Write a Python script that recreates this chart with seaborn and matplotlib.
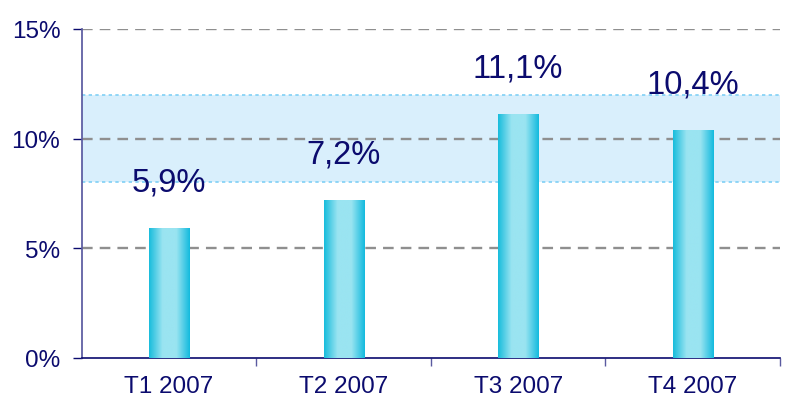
import numpy as np
import pandas as pd
import matplotlib
matplotlib.use("Agg")
import matplotlib.pyplot as plt
from matplotlib.colors import LinearSegmentedColormap
import seaborn as sns

# data
quarters = ["T1 2007", "T2 2007", "T3 2007", "T4 2007"]
margin = [5.9, 7.2, 11.1, 10.4]
labels = ["5,9%", "7,2%", "11,1%", "10,4%"]
band_low, band_high = 8, 12

navy = "#0b0b6e"
sns.set_theme(style="white")
plt.rcParams["font.family"] = ["Liberation Sans", "DejaVu Sans"]

df = pd.DataFrame({"q": quarters, "m": margin})

fig = plt.figure(figsize=(7.87, 4.14), dpi=100)
ax = fig.add_axes([0.104, 0.133, 0.887, 0.795])

# target band
ax.axhspan(band_low, band_high, color="#d9effc", zorder=0, lw=0)
for yb in (band_low, band_high):
    ax.axhline(yb, color="#80d0f5", ls=(0, (2, 2)), lw=1.2, zorder=1)
for yg in (5, 10, 15):
    ax.axhline(yg, color="#8f8f8f", ls=(0, (4.5, 3)), lw=1.7, zorder=1)

sns.barplot(data=df, x="q", y="m", width=0.23, color="#1bbfdd", ax=ax, zorder=2)

# gradient fill on bars
cmap = LinearSegmentedColormap.from_list("g", ["#17bcdc", "#9ae4f1", "#9ae4f1", "#12bade"])
grad = np.linspace(0, 1, 256).reshape(1, -1)
for p in ax.patches:
    x0, w, h = p.get_x(), p.get_width(), p.get_height()
    im = ax.imshow(grad, cmap=cmap, extent=[x0, x0 + w, 0, h], aspect="auto", zorder=3)
    im.set_clip_path(p)
    p.set_edgecolor("none")

for i, (v, t) in enumerate(zip(margin, labels)):
    ax.text(i, v + 1.4, t, ha="center", va="bottom", fontsize=23.5, color=navy)

ax.set_xlim(-0.5, 3.5)
ax.set_ylim(0, 15)
ax.set_yticks([0, 5, 10, 15])
ax.set_yticklabels(["0%", "5%", "10%", "15%"])
ax.set_xticks([0, 1, 2, 3])
ax.set_xticks([0.5, 1.5, 2.5, 3.5], minor=True)
ax.set_xlabel("")
ax.set_ylabel("")
ax.tick_params(axis="y", length=6.5, width=1, color=navy, labelsize=17.5, labelcolor=navy, left=True, pad=9)
ax.tick_params(axis="x", which="major", length=0, labelsize=17.5, labelcolor=navy, pad=12)
ax.tick_params(axis="x", which="minor", length=6, width=1, color="#5a5aa0", bottom=True, direction="out")

for s in ("top", "right"):
    ax.spines[s].set_visible(False)
ax.spines["left"].set_color("#5a5aa0")
ax.spines["bottom"].set_color(navy)
ax.spines["bottom"].set_linewidth(1.2)

fig.savefig("out.png", dpi=100)
